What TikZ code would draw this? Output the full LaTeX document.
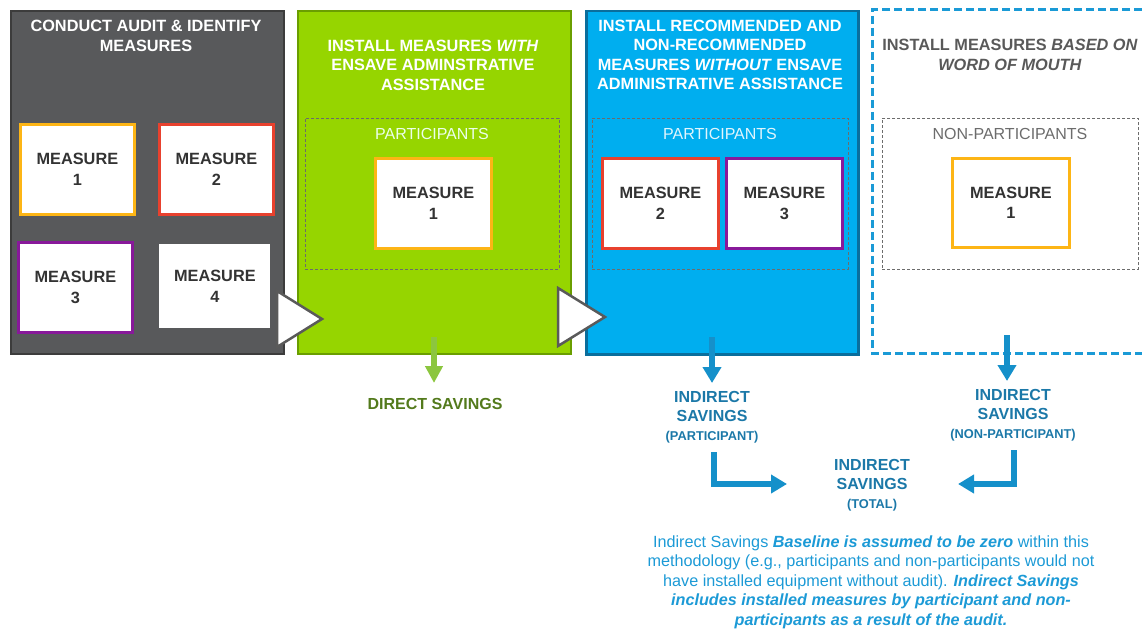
\documentclass[tikz,border=0pt]{standalone}
\usepackage{fontspec}
\setmainfont{Liberation Sans}
\usetikzlibrary{arrows.meta}
\definecolor{grayfill}{HTML}{58595B}
\definecolor{grayline}{HTML}{3C3C3C}
\definecolor{greenfill}{HTML}{96D500}
\definecolor{greenline}{HTML}{6A9E00}
\definecolor{bluefill}{HTML}{00AEEF}
\definecolor{blueline}{HTML}{0A6E9C}
\definecolor{dashblue}{HTML}{1A9AD6}
\definecolor{morange}{HTML}{FDB515}
\definecolor{mred}{HTML}{E8412E}
\definecolor{mpurple}{HTML}{88199A}
\definecolor{mtext}{HTML}{333333}
\definecolor{arrgreen}{HTML}{8CC63F}
\definecolor{arrblue}{HTML}{1590CA}
\definecolor{indtext}{HTML}{1B78A8}
\definecolor{dirtext}{HTML}{537A1C}
\definecolor{rtitle}{HTML}{595959}
\definecolor{bottomtext}{HTML}{1C9AD6}
\definecolor{trigray}{HTML}{5A5A5A}
\newcommand{\subsize}{\fontsize{12.8}{15}\selectfont}
\begin{document}
\begin{tikzpicture}[x=1pt,y=-1pt,
  phase/.style={draw, line width=2pt, anchor=north west, inner sep=0pt},
  measure/.style={fill=white, line width=2.8pt, anchor=north west, inner sep=0pt,
    align=center, text=mtext, font=\bfseries\fontsize{16.3}{20.5}\selectfont},
  ptitle/.style={align=center, text=white, font=\bfseries\fontsize{16.3}{19.5}\selectfont},
  grp/.style={draw=gray!85!black, line width=0.8pt, dash pattern=on 3pt off 2pt, anchor=north west, inner sep=0pt},
  grplabel/.style={font=\fontsize{16}{18}\selectfont},
  tri/.style={fill=white, draw=trigray, line width=2.5pt, line join=miter},
  barrow/.style={draw=arrblue, line width=6pt, -{Triangle[length=16pt,width=18pt]}},
  savings/.style={align=center, text=indtext, font=\bfseries\fontsize{16}{19}\selectfont}
]
\useasboundingbox (0,0) rectangle (1142,631);

% phase boxes
\node[phase, fill=grayfill, draw=grayline, minimum width=273pt, minimum height=343pt] (pA) at (10,10) {};
\node[phase, fill=greenfill, draw=greenline, minimum width=273pt, minimum height=343pt] (pB) at (297,10) {};
\node[phase, fill=bluefill, draw=blueline, line width=2.5pt, minimum width=272pt, minimum height=343pt] (pC) at (585,10) {};
\coordinate (dA) at (1142,10);
\coordinate (dB) at (872,10);
\coordinate (dC) at (872,353);
\coordinate (dD) at (1142,353);
\draw[dashblue, line width=3pt, dash pattern=on 8pt off 4pt] (dA) -- (dB) -- (dC) -- (dD);

% titles
\node[ptitle] (tA) at (146,36) {CONDUCT AUDIT \& IDENTIFY\\MEASURES};
\node[ptitle] (tB) at (433,65) {INSTALL MEASURES \textit{WITH}\\ENSAVE ADMINSTRATIVE\\ASSISTANCE};
\node[ptitle] (tC) at (720,55) {INSTALL RECOMMENDED AND\\NON-RECOMMENDED\\MEASURES \textit{WITHOUT} ENSAVE\\ADMINISTRATIVE ASSISTANCE};
\node[ptitle, text=rtitle] (tD) at (1010,55) {INSTALL MEASURES \textit{BASED ON}\\\textit{WORD OF MOUTH}};

% measures in audit box
\node[measure, draw=morange, minimum width=114pt, minimum height=90pt] (a1) at (19,123) {MEASURE\\1};
\node[measure, draw=mred, minimum width=114pt, minimum height=90pt] (a2) at (158,123) {MEASURE\\2};
\node[measure, draw=mpurple, minimum width=114pt, minimum height=90pt] (a3) at (17,241) {MEASURE\\3};
\node[measure, draw=none, minimum width=111pt, minimum height=84pt] (a4) at (158,243) {MEASURE\\4};

% participant groups
\node[grp, minimum width=254pt, minimum height=151pt] (gB) at (305,118) {};
\node[grp, minimum width=256pt, minimum height=151pt] (gC) at (592,118) {};
\node[grp, minimum width=256pt, minimum height=151pt] (gD) at (882,118) {};
\node[grplabel, text=white!92!green] (lB) at (432,134) {PARTICIPANTS};
\node[grplabel, text=white!88!bluefill] (lC) at (720,134) {PARTICIPANTS};
\node[grplabel, text=gray!85!black] (lD) at (1010,134) {NON-PARTICIPANTS};

\node[measure, draw=morange, minimum width=116pt, minimum height=90pt] (b1) at (374,157) {MEASURE\\1};
\node[measure, draw=mred, minimum width=116pt, minimum height=90pt] (c2) at (601,157) {MEASURE\\2};
\node[measure, draw=mpurple, minimum width=116pt, minimum height=90pt] (c3) at (725,157) {MEASURE\\3};
\node[measure, draw=morange, minimum width=117pt, minimum height=89pt] (d1) at (951,157) {MEASURE\\1};

% triangles
\coordinate (t1a) at (277,291);
\coordinate (t1b) at (322,319);
\coordinate (t1c) at (277,347);
\draw[tri] (t1a) -- (t1b) -- (t1c) -- cycle;
\coordinate (t2a) at (558,288);
\coordinate (t2b) at (605,317);
\coordinate (t2c) at (558,346);
\draw[tri] (t2a) -- (t2b) -- (t2c) -- cycle;

% savings labels
\node[align=center, text=dirtext, font=\bfseries\fontsize{16}{19}\selectfont] (ds) at (435,404) {DIRECT SAVINGS};
\node[savings] (ip) at (712,417) {INDIRECT\\SAVINGS\\{\subsize (PARTICIPANT)}};
\node[savings] (inp) at (1013,415) {INDIRECT\\SAVINGS\\{\subsize (NON-PARTICIPANT)}};
\node[savings] (it) at (872,485) {INDIRECT\\SAVINGS\\{\subsize (TOTAL)}};

% arrows
\coordinate (g1) at (434,337);
\coordinate (g2) at (434,383);
\draw[arrgreen, line width=5.5pt, -{Triangle[length=17pt,width=17pt]}] (g1) -- (g2);
\coordinate (v1s) at (712,337);
\coordinate (v1e) at (712,383);
\draw[barrow] (v1s) -- (v1e);
\coordinate (v2s) at (1007,335);
\coordinate (v2e) at (1007,381);
\draw[barrow] (v2s) -- (v2e);
\coordinate (e1s) at (714,452);
\coordinate (e1e) at (787,484);
\draw[barrow] (e1s) |- (e1e);
\coordinate (e2s) at (1014,450);
\coordinate (e2e) at (958,484);
\draw[barrow] (e2s) |- (e2e);

% bottom note
\node[align=center, text=bottomtext, font=\fontsize{16.2}{19.5}\selectfont] (note) at (871,582)
 {Indirect Savings \textbf{\textit{Baseline is assumed to be zero}} within this\\
  methodology (e.g., participants and non-participants would not\\
  have installed equipment without audit). \textbf{\textit{Indirect Savings}}\\
  \textbf{\textit{includes installed measures by participant and non-}}\\
  \textbf{\textit{participants as a result of the audit.}}};
\end{tikzpicture}
\end{document}
